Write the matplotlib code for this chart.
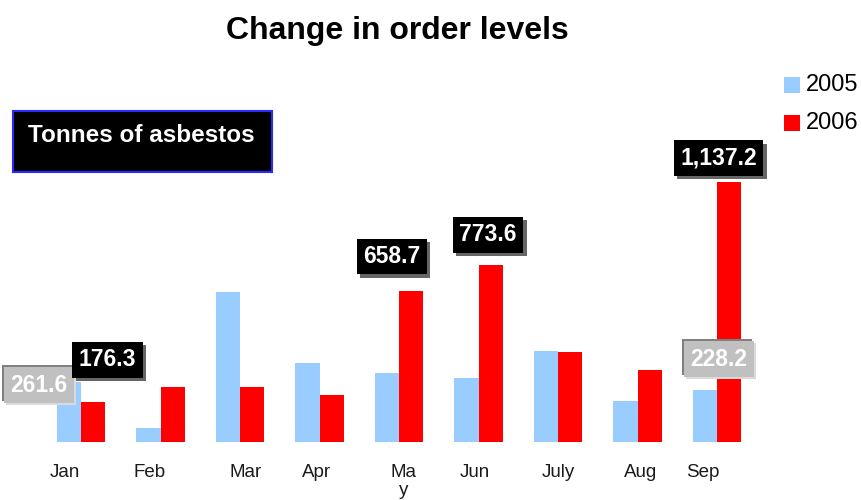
# Bar chart of monthly asbestos orders, 2005 vs 2006

import matplotlib.pyplot as plt
import matplotlib.patheffects as pe
from matplotlib.patches import Rectangle
from matplotlib.transforms import blended_transform_factory
import numpy as np

plt.rcParams['font.family'] = ['Liberation Sans', 'DejaVu Sans']

months = ["Jan", "Feb", "Mar", "Apr", "Ma\ny", "Jun", "July", "Aug", "Sep"]
orders_2005 = [261.6, 62, 657, 347, 303, 281, 398, 179, 228.2]
orders_2006 = [176.3, 242, 242, 207, 658.7, 773.6, 394, 315, 1137.2]
series = ["2005", "2006"]
colors = ["#99ccff", "#ff0000"]

# which bars carry a value label: (series index, month index)
labelled = [(0, 0), (1, 0), (1, 4), (1, 5), (1, 8), (0, 8)]

W, H = 862, 500
fig = plt.figure(figsize=(W / 100, H / 100), dpi=100)
# axes from pixel row 100 down to the baseline at row 442
ax = fig.add_axes([0, (H - 442) / H, 1, 342 / H])
ax.set_xlim(-81 / 79.5, (W - 81) / 79.5)
ax.set_ylim(0, 342 / 0.2286)
ax.axis("off")

x = np.arange(len(months))
bw = 0.302
for k, (vals, c) in enumerate(zip([orders_2005, orders_2006], colors)):
    ax.bar(x + (k - 0.5) * bw, vals, bw, color=c, linewidth=0)

# label offsets (points) from the top-centre of each bar
offsets = {(0, 0): (-21.6, -2.2), (1, 0): (10.4, 30.2), (1, 4): (-14, 25.2),
           (1, 5): (-1.8, 22), (1, 8): (-7.6, 17.3), (0, 8): (10, 22)}
for s, m in labelled:
    val = [orders_2005, orders_2006][s][m]
    xpos = m + (s - 0.5) * bw
    if s == 1:
        box = dict(boxstyle="square,pad=0.28", fc="black", ec="none")
        effects = [pe.SimplePatchShadow(offset=(2.5, -2.5), shadow_rgbFace="#666666", alpha=1),
                   pe.Normal()]
    else:
        box = dict(boxstyle="square,pad=0.28", fc="#c0c0c0", ec="none")
        effects = [pe.SimplePatchShadow(offset=(-1.5, 1.5), shadow_rgbFace="#808080", alpha=1),
                   pe.SimplePatchShadow(offset=(1.5, -1.5), shadow_rgbFace="#dadada", alpha=1),
                   pe.Normal()]
    t = ax.annotate(f"{val:,.1f}", (xpos, val), xytext=offsets[(s, m)],
                    textcoords="offset points", ha="center", va="center",
                    color="white", fontsize=16.5, fontweight="bold", bbox=box, zorder=5)
    t.get_bbox_patch().set_path_effects(effects)

# month labels under the groups, slightly shifted like the original
label_shift = [-0.2, -0.14, 0.075, -0.04, 0.06, -0.05, 0.0, 0.04, -0.18]
trans = blended_transform_factory(ax.transData, fig.transFigure)
for i, (name, dx) in enumerate(zip(months, label_shift)):
    ax.text(i + dx, 1 - 464 / H, name, transform=trans, ha="center", va="top",
            fontsize=13.5, color="#1a1a1a", linespacing=1.1)

# title
fig.text(397.5 / W, 1 - 39 / H, "Change in order levels", ha="center", va="baseline",
         fontsize=23, fontweight="bold")

# "Tonnes of asbestos" box
fig.patches.append(Rectangle((13 / W, 1 - 172 / H), 259 / W, 61 / H, transform=fig.transFigure,
                             fc="black", ec="#2a2aff", lw=1.5))
fig.text(28 / W, 1 - 142 / H, "Tonnes of asbestos", ha="left", va="baseline",
         fontsize=17.5, fontweight="bold", color="white")

# legend
for k, (name, c) in enumerate(zip(series, colors)):
    top = 77 + 38 * k
    fig.patches.append(Rectangle((784 / W, 1 - (top + 16) / H), 16 / W, 16 / H,
                                 transform=fig.transFigure, fc=c, ec="none"))
    fig.text(806 / W, 1 - (top + 8) / H, name, ha="left", va="center", fontsize=17)

plt.savefig("out.png", dpi=100)
